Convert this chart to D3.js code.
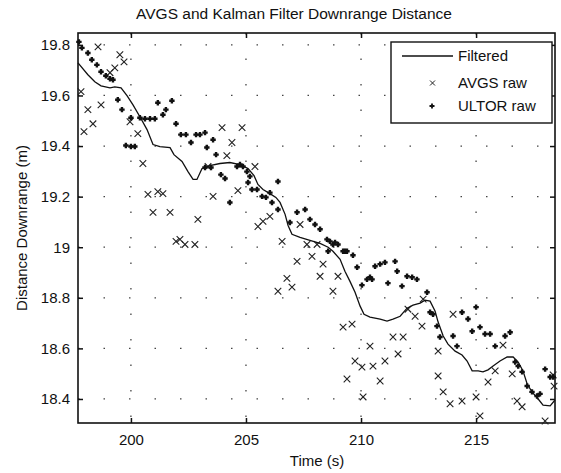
<!DOCTYPE html>
<html><head><meta charset="utf-8">
<script src="https://cdn.jsdelivr.net/npm/d3@7"></script>
<style>body{margin:0;background:#fff}svg{display:block}text{font-family:"Liberation Sans",Arial,sans-serif;fill:#111}</style>
</head><body><svg id="c" width="561" height="473"></svg>
<script>
const title = "AVGS and Kalman Filter Downrange Distance";
const xLabel = "Time (s)";
const yLabel = "Distance Downrange (m)";
const xTicks = [200, 205, 210, 215];
const yTicks = [18.4, 18.6, 18.8, 19.0, 19.2, 19.4, 19.6, 19.8];
const yTickLabels = ["18.4", "18.6", "18.8", "19", "19.2", "19.4", "19.6", "19.8"];
const legendLabels = ["Filtered", "AVGS raw", "ULTOR raw"];

// Filtered estimate [time, distance]
const filtered = [
[197.70,19.729],[198.13,19.682],[198.43,19.654],[198.70,19.638],[199.09,19.630],[199.30,19.634],[199.57,19.630],
[199.83,19.599],[200.09,19.563],[200.39,19.516],[200.70,19.465],[200.96,19.406],[201.26,19.398],[201.70,19.394],
[201.87,19.366],[202.22,19.339],[202.48,19.299],[202.70,19.268],[202.87,19.268],[203.09,19.311],[203.43,19.323],
[203.87,19.331],[204.30,19.335],[204.74,19.327],[205.09,19.311],[205.35,19.283],[205.52,19.248],[205.74,19.228],
[206.04,19.212],[206.30,19.197],[206.48,19.177],[206.70,19.130],[206.83,19.086],[207.00,19.051],[207.35,19.039],
[207.78,19.027],[208.22,19.015],[208.57,19.000],[208.78,18.984],[209.09,18.952],[209.30,18.905],[209.52,18.865],
[209.74,18.822],[209.96,18.767],[210.13,18.735],[210.39,18.724],[210.83,18.716],[211.13,18.708],[211.39,18.716],
[211.70,18.727],[212.00,18.759],[212.26,18.771],[212.57,18.779],[212.78,18.791],[213.00,18.787],[213.22,18.747],
[213.35,18.704],[213.57,18.649],[213.78,18.617],[214.09,18.589],[214.39,18.574],[214.61,18.550],[214.83,18.511],
[215.09,18.511],[215.30,18.507],[215.52,18.515],[215.74,18.530],[216.04,18.550],[216.35,18.566],[216.61,18.566],
[216.83,18.546],[217.04,18.511],[217.22,18.459],[217.43,18.428],[217.70,18.400],[217.91,18.376],[218.22,18.373],
[218.43,18.396]];

// AVGS raw measurements [time, distance]
const avgsRaw = [
[198.57,19.792],[199.52,19.761],[199.70,19.733],[199.30,19.709],[199.09,19.690],[197.83,19.615],[198.13,19.544],
[198.70,19.563],[198.35,19.488],[197.96,19.457],[199.96,19.496],[200.30,19.449],[200.52,19.331],[200.74,19.209],
[201.17,19.220],[201.39,19.212],[200.96,19.138],[201.70,19.138],[202.91,19.110],[203.57,19.201],[203.96,19.473],
[204.83,19.473],[204.39,19.414],[204.17,19.362],[205.39,19.319],[204.65,19.224],[203.35,19.319],[205.74,19.102],
[206.04,19.122],[205.52,19.082],[201.96,19.023],[202.13,19.031],[202.35,19.011],[202.78,19.011],[207.35,19.090],
[206.57,19.023],[207.65,19.011],[208.09,19.011],[207.87,18.964],[208.35,18.933],[207.22,18.944],[206.78,18.877],
[207.00,18.842],[206.39,18.826],[208.22,18.885],[209.00,18.885],[208.78,18.826],[209.22,18.684],[209.61,18.696],
[210.39,18.609],[209.74,18.550],[210.04,18.526],[210.52,18.530],[211.04,18.550],[209.39,18.479],[210.83,18.471],
[210.09,18.408],[211.39,18.645],[211.83,18.645],[211.61,18.578],[212.04,18.755],[212.35,18.727],[212.65,18.688],
[212.70,18.795],[213.35,18.491],[213.57,18.428],[213.87,18.381],[214.39,18.392],[215.00,18.408],[215.17,18.333],
[214.00,18.735],[213.35,18.589],[215.52,18.467],[215.83,18.511],[216.17,18.613],[216.57,18.499],[216.78,18.392],
[217.00,18.369],[218.00,18.313],[218.35,18.495],[218.39,18.451]];

// ULTOR raw measurements [time, distance]
const ultorRaw = [
[197.74,19.812],[197.87,19.788],[198.13,19.768],[198.30,19.741],[198.52,19.721],[198.70,19.694],[198.91,19.678],
[199.09,19.666],[199.22,19.662],[199.43,19.583],[199.61,19.544],[200.00,19.512],[200.39,19.512],[200.61,19.508],
[200.83,19.508],[201.04,19.508],[201.17,19.571],[201.39,19.524],[201.52,19.544],[201.78,19.579],[201.96,19.488],
[202.17,19.445],[202.39,19.445],[202.61,19.414],[202.83,19.445],[203.00,19.445],[203.22,19.453],[203.30,19.394],
[203.57,19.425],[203.70,19.366],[199.78,19.402],[200.00,19.398],[200.17,19.398],[203.22,19.315],[203.48,19.315],
[203.91,19.287],[204.09,19.272],[204.61,19.319],[204.74,19.327],[204.87,19.319],[205.04,19.299],[205.17,19.280],
[205.09,19.256],[205.26,19.228],[205.48,19.228],[205.70,19.201],[205.87,19.197],[206.04,19.216],[206.39,19.260],
[204.30,19.177],[206.13,19.177],[206.39,19.149],[206.91,19.098],[207.22,19.138],[207.57,19.149],[207.78,19.110],
[208.00,19.090],[208.22,19.071],[208.52,19.031],[208.78,19.011],[209.00,19.011],[209.30,18.984],[208.57,18.984],
[208.65,19.023],[208.87,19.019],[209.22,18.984],[209.39,18.984],[209.65,18.968],[209.83,18.921],[210.61,18.925],
[210.83,18.933],[211.04,18.940],[211.48,18.944],[211.57,18.905],[210.39,18.881],[210.26,18.873],[210.04,18.850],
[211.17,18.858],[211.78,18.846],[212.00,18.885],[212.22,18.881],[212.43,18.873],[212.87,18.822],[213.00,18.743],
[213.13,18.735],[213.30,18.688],[210.48,18.873],[213.43,18.645],[214.00,18.649],[214.17,18.609],[214.39,18.743],
[214.65,18.716],[214.83,18.668],[215.17,18.684],[215.39,18.657],[215.61,18.657],[215.83,18.609],[216.26,18.649],
[216.48,18.664],[216.70,18.546],[216.83,18.530],[217.00,18.507],[217.22,18.451],[217.43,18.428],[217.65,18.412],
[217.78,18.420],[218.00,18.518],[218.22,18.487],[218.35,18.487],[215.00,18.763]];

const svg = d3.select("#c");
const L = 78, T = 33, R = 555, B = 423;
const x = d3.scaleLinear().domain([197.7, 218.43]).range([L, R]);
const y = d3.scaleLinear().domain([18.305, 19.847]).range([B, T]);

svg.append("rect").attr("width", 561).attr("height", 473).attr("fill", "#fff");

// dotted grid (faint, sparse remnants)
const grid = svg.append("g").attr("stroke", "#444").attr("stroke-width", 1.3).attr("stroke-dasharray", "1.5,24");
grid.selectAll(".gx").data(xTicks).join("line").attr("x1", d => x(d)).attr("x2", d => x(d)).attr("y1", T).attr("y2", B);
grid.selectAll(".gy").data(yTicks).join("line").attr("y1", d => y(d)).attr("y2", d => y(d)).attr("x1", L).attr("x2", R);

// axes
const xa = svg.append("g").attr("transform", `translate(0,${B})`)
  .call(d3.axisBottom(x).tickValues(xTicks).tickSize(-5).tickPadding(11).tickFormat(d3.format("d")));
const xt = svg.append("g").attr("transform", `translate(0,${T})`)
  .call(d3.axisTop(x).tickValues(xTicks).tickSize(-5).tickFormat(""));
const ya = svg.append("g").attr("transform", `translate(${L},0)`)
  .call(d3.axisLeft(y).tickValues(yTicks).tickSize(-5).tickPadding(8).tickFormat((d, i) => yTickLabels[i]));
const yr = svg.append("g").attr("transform", `translate(${R},0)`)
  .call(d3.axisRight(y).tickValues(yTicks).tickSize(-5).tickFormat(""));
[xa, xt, ya, yr].forEach(g => {
  g.select(".domain").remove();
  g.selectAll("line").attr("stroke", "#111").attr("stroke-width", 1.5);
  g.selectAll("text").attr("font-size", 15).attr("fill", "#111").attr("font-family", '"Liberation Sans",Arial,sans-serif');
});
svg.append("rect").attr("x", L).attr("y", T).attr("width", R - L).attr("height", B - T)
  .attr("fill", "none").attr("stroke", "#111").attr("stroke-width", 1.6);

const plot = svg.append("g");
// AVGS x markers
const xs = 3.3;
plot.append("g").selectAll("path").data(avgsRaw).join("path")
  .attr("d", d => { const cx = x(d[0]), cy = y(d[1]); return `M${cx-xs},${cy-xs}L${cx+xs},${cy+xs}M${cx-xs},${cy+xs}L${cx+xs},${cy-xs}`; })
  .attr("stroke", "#222").attr("stroke-width", 1.1).attr("fill", "none");
// ULTOR + markers (dense blobs)
const ps = 2.7;
plot.append("g").selectAll("path").data(ultorRaw).join("path")
  .attr("d", d => { const cx = x(d[0]), cy = y(d[1]); return `M${cx-ps},${cy}L${cx+ps},${cy}M${cx},${cy-ps}L${cx},${cy+ps}`; })
  .attr("stroke", "#111").attr("stroke-width", 2.4).attr("fill", "none");
// filtered line
plot.append("path").datum(filtered)
  .attr("d", d3.line().x(d => x(d[0])).y(d => y(d[1])))
  .attr("fill", "none").attr("stroke", "#111").attr("stroke-width", 1.3);

// title & labels
svg.append("text").attr("x", 294).attr("y", 19).attr("text-anchor", "middle").attr("font-size", 15.5).text(title);
svg.append("text").attr("x", 317).attr("y", 466).attr("text-anchor", "middle").attr("font-size", 15).text(xLabel);
svg.append("text").attr("transform", "translate(27,228) rotate(-90)").attr("text-anchor", "middle").attr("font-size", 15).text(yLabel);

// legend
const lg = svg.append("g");
lg.append("rect").attr("x", 391).attr("y", 42).attr("width", 161).attr("height", 81)
  .attr("fill", "#fff").attr("stroke", "#111").attr("stroke-width", 1.4);
const ly = [56, 83, 106];
lg.append("line").attr("x1", 402).attr("x2", 453).attr("y1", ly[0]).attr("y2", ly[0]).attr("stroke", "#111").attr("stroke-width", 1.6);
lg.append("path").attr("d", `M${430},${ly[1]-2.5}L${435},${ly[1]+2.5}M${430},${ly[1]+2.5}L${435},${ly[1]-2.5}`).attr("stroke", "#222").attr("stroke-width", 1);
lg.append("path").attr("d", `M${429.5},${ly[2]}L${434.5},${ly[2]}M${432},${ly[2]-2.5}L${432},${ly[2]+2.5}`).attr("stroke", "#111").attr("stroke-width", 1.8);
lg.selectAll(".lt").data(legendLabels).join("text").attr("x", 458).attr("y", (d, i) => ly[i] + 5)
  .attr("font-size", 15).text(d => d);
</script></body></html>
